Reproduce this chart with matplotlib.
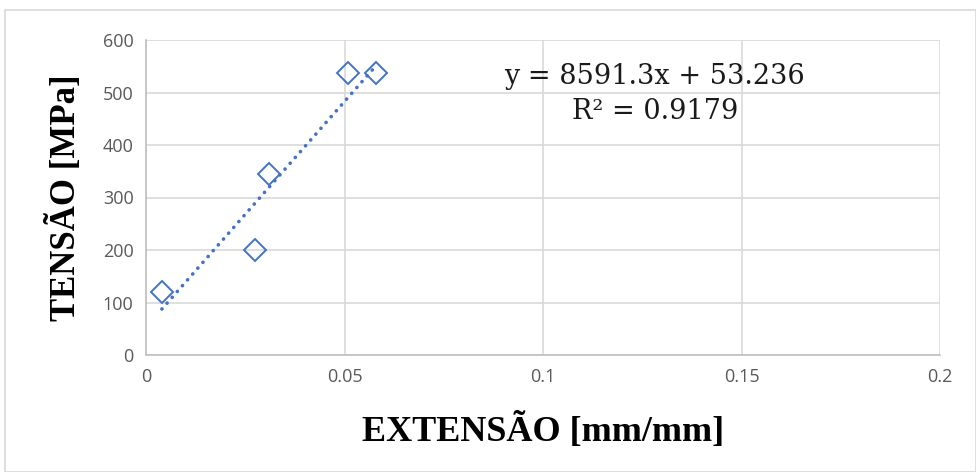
import numpy as np
import matplotlib
matplotlib.use("Agg")
import matplotlib.pyplot as plt
from matplotlib.patches import Rectangle

# Data
strain = [0.004, 0.0275, 0.031, 0.051, 0.058]
stress = [120, 200, 345, 537, 538]
slope = 8591.3
intercept = 53.236
r2 = 0.9179
x_ticks = [0, 0.05, 0.1, 0.15, 0.2]
x_tick_labels = ["0", "0.05", "0.1", "0.15", "0.2"]
y_ticks = [0, 100, 200, 300, 400, 500, 600]

blue = "#4472C4"
grid = "#d9d9d9"

fig = plt.figure(figsize=(9.76, 4.72), dpi=100)
fig.patches.append(Rectangle((5/976, 0), 1 - 5/976, 1 - 10/472, transform=fig.transFigure,
                             fill=False, edgecolor="#d9d9d9", linewidth=1.2))
ax = fig.add_axes([146/976, 1 - 355/472, (940 - 146)/976, (355 - 40)/472])

ax.set_xlim(0, 0.2)
ax.set_ylim(0, 600)
ax.set_xticks(x_ticks)
ax.set_xticklabels(x_tick_labels)
ax.set_yticks(y_ticks)
ax.grid(True, color=grid, linewidth=1.2)
ax.set_axisbelow(True)
for s in ["top", "right"]:
    ax.spines[s].set_visible(False)
for s in ["left", "bottom"]:
    ax.spines[s].set_color("#bfbfbf")
    ax.spines[s].set_linewidth(1.2)
ax.tick_params(length=0, pad=9, labelsize=13, colors="#595959")
for lab in ax.get_xticklabels() + ax.get_yticklabels():
    lab.set_family(["Liberation Sans Narrow", "Open Sans", "DejaVu Sans"])
    lab.set_color("#595959")

xs = np.array([min(strain), max(strain)])
ax.plot(xs, slope * xs + intercept, color=blue, linewidth=2.6,
        linestyle=(0, (0.05, 2.1)), dash_capstyle="round", zorder=3)
ax.plot(strain, stress, linestyle="none", marker="D", markersize=11,
        markerfacecolor="none", markeredgecolor=blue, markeredgewidth=1.4, zorder=5)

ax.text(0.1282, 530, f"y = {slope}x + {intercept}", ha="center", va="center",
        fontsize=19.5, family=["DejaVu Serif"], color="#1a1a1a")
ax.text(0.1282, 464, f"R² = {r2}", ha="center", va="center",
        fontsize=19.5, family=["DejaVu Serif"], color="#1a1a1a")

ax.set_xlabel("EXTENSÃO [mm/mm]", fontsize=26, fontweight="bold",
              family=["Liberation Serif"], labelpad=20)
ax.set_ylabel("TENSÃO [MPa]", fontsize=25, fontweight="bold",
              family=["Liberation Serif"], labelpad=14)

fig.savefig("out.png", dpi=100)
